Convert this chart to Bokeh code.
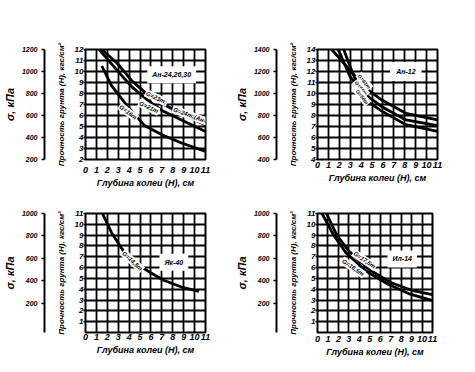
from bokeh.plotting import figure
from bokeh.models import LinearAxis, Range1d, FixedTicker, Label
from bokeh.layouts import column, row
from bokeh.embed import file_html
from bokeh.resources import INLINE

# ---------------- data ----------------
depth_ticks = list(range(0, 12))
x_title = "Глубина колеи (H), см"
strength_title = "Прочность грунта (H), кгс/см²"
sigma_title = "σ, кПа"

# Panel A: Ан-24, 26, 30
a_name = "Ан-24,26,30"
a_strength_ticks = list(range(2, 13))
a_sigma_ticks = [200, 400, 600, 800, 1000, 1200]
a1_x = [1.5, 2.9, 4.3, 5.7, 7.1, 8.8, 11.0]
a1_y = [12.0, 10.75, 9.1, 7.9, 7.04, 6.15, 5.17]
a1_label = "G=23т;"
a2_x = [1.25, 2.9, 4.3, 5.7, 7.1, 8.8, 11.0]
a2_y = [12.0, 10.1, 8.55, 7.4, 6.4, 5.6, 4.55]
a2_label = "G=21т"
a3_x = [1.5, 2.4, 3.8, 5.4, 7.1, 8.8, 11.0]
a3_y = [10.5, 8.7, 6.9, 5.1, 4.2, 3.5, 2.74]
a3_label = "G=16т"
a_extra_label = "G=24т;(Ан-26)"

# Panel B: Ан-12
b_name = "Ан-12"
b_strength_ticks = list(range(4, 15))
b_sigma_ticks = [400, 600, 800, 1000, 1200, 1400]
b1_x = [1.3, 3.0, 4.4, 5.9, 8.1, 11.0]
b1_y = [14.0, 12.1, 10.5, 9.4, 8.2, 7.6]
b2_x = [1.9, 3.0, 4.4, 5.9, 8.1, 11.0]
b2_y = [14.0, 11.5, 9.9, 8.8, 7.6, 7.07]
b3_x = [2.4, 3.2, 4.4, 5.9, 8.1, 11.0]
b3_y = [14.0, 11.9, 9.4, 8.4, 7.16, 6.56]
b_labels = ["G=61т", "G=55т", "G=50т"]

# Panel C: Як-40
c_name = "Як-40"
c_strength_ticks = list(range(1, 12))
c_sigma_ticks = [200, 400, 600, 800, 1000]
c1_x = [1.55, 2.4, 3.5, 5.2, 7.1, 8.8, 10.4]
c1_y = [11.0, 9.2, 7.5, 6.0, 4.85, 4.2, 3.8]
c1_label = "G=14,5т"

# Panel D: Ил-14
d_name = "Ил-14"
d_strength_ticks = list(range(1, 12))
d_sigma_ticks = [200, 400, 600, 800, 1000]
d1_x = [0.86, 1.86, 3.0, 5.0, 7.0, 9.0, 11.0]
d1_y = [11.0, 8.97, 7.52, 5.78, 4.62, 3.9, 3.5]
d1_label = "G=17,5т"
d2_x = [0.43, 1.57, 2.71, 4.71, 6.71, 8.71, 11.0]
d2_y = [11.0, 8.97, 7.38, 5.64, 4.48, 3.6, 2.95]
d2_label = "G=16,5т"

FONT = "Liberation Sans"


def style_text(ax, label_size, title_size):
    ax.axis_label_text_font = FONT
    ax.axis_label_text_font_style = "bold italic"
    ax.axis_label_text_font_size = title_size
    ax.axis_label_text_color = "black"
    ax.major_label_text_font = FONT
    ax.major_label_text_font_style = "bold italic"
    ax.major_label_text_font_size = label_size
    ax.major_label_text_color = "black"


def make_panel(width, height, borders, y_rng, sigma_rng, strength_ticks,
               sigma_ticks, x_standoff):
    left, right, top, bottom = borders
    p = figure(width=width, height=height, x_range=Range1d(0, 11),
               y_range=Range1d(*y_rng), output_backend="svg",
               toolbar_location=None, tools="",
               min_border_left=left, min_border_right=right,
               min_border_top=top, min_border_bottom=bottom)
    p.background_fill_color = "white"
    p.border_fill_color = "white"
    p.outline_line_color = "black"
    p.outline_line_width = 2
    p.outline_line_alpha = 1
    # grid
    p.xgrid.ticker = FixedTicker(ticks=depth_ticks)
    p.ygrid.ticker = FixedTicker(ticks=list(range(int(y_rng[0]), int(y_rng[1]) + 1)))
    for g in (p.xgrid, p.ygrid):
        g.grid_line_color = "black"
        g.grid_line_width = 1.8
        g.grid_line_alpha = 1
    # x axis
    xa = p.xaxis[0]
    xa.ticker = FixedTicker(ticks=depth_ticks)
    xa.axis_line_color = None
    xa.major_tick_out = 0
    xa.major_tick_in = 0
    xa.minor_tick_out = 0
    xa.major_label_standoff = x_standoff
    xa.axis_label = x_title
    xa.axis_label_standoff = 2
    style_text(xa, "9px", "9px")
    # strength axis (next to the frame)
    ya = p.yaxis[0]
    ya.ticker = FixedTicker(ticks=strength_ticks)
    ya.axis_line_color = None
    ya.major_tick_out = 2
    ya.major_tick_in = 0
    ya.major_tick_line_width = 1.5
    ya.minor_tick_out = 0
    ya.major_label_standoff = 0
    ya.axis_label = strength_title
    ya.axis_label_standoff = 6
    ya.major_label_orientation = "horizontal"
    style_text(ya, "8px", "8px")
    p.extra_y_ranges = {"sigma": Range1d(*sigma_rng)}
    # empty gap between the two vertical scales
    gap = LinearAxis(y_range_name="sigma", ticker=FixedTicker(ticks=[]))
    gap.axis_line_color = None
    gap.major_tick_out = 0
    gap.major_tick_in = 0
    gap.minor_tick_out = 0
    gap.minor_tick_in = 0
    gap.major_label_standoff = 0
    gap.axis_label = "x"
    gap.axis_label_standoff = 0
    gap.axis_label_text_font_size = "6px"
    gap.axis_label_text_alpha = 0
    p.add_layout(gap, "left")
    # sigma axis
    sa = LinearAxis(y_range_name="sigma")
    sa.ticker = FixedTicker(ticks=sigma_ticks)
    sa.axis_line_color = "black"
    sa.axis_line_width = 2
    sa.major_tick_out = 3
    sa.major_tick_in = 0
    sa.major_tick_line_width = 1.5
    sa.minor_tick_out = 0
    sa.major_label_standoff = 4
    sa.axis_label = sigma_title
    sa.axis_label_standoff = 3
    style_text(sa, "7px", "11px")
    p.add_layout(sa, "left")
    return p


def curve(p, xs, ys):
    p.line(xs, ys, line_color="black", line_width=2.8)


def tag(p, x, y, text, angle=0.0, size="7px", pad=1):
    p.add_layout(Label(x=x, y=y, text=text, angle=angle, text_align="center",
                       text_baseline="middle", text_font=FONT,
                       text_font_style="bold italic", text_font_size=size,
                       text_color="black", background_fill_color="white",
                       padding=pad))


# Panel A
pa = make_panel(232, 190, (74, 27, 49, 29), (2, 12), (200, 1200),
                a_strength_ticks, a_sigma_ticks, 7)
curve(pa, a1_x, a1_y)
curve(pa, a2_x, a2_y)
curve(pa, a3_x, a3_y)
tag(pa, 7.9, 9.7, a_name, size="7px", pad=5)
tag(pa, 6.5, 7.6, a1_label, angle=-0.45, size="6px")
tag(pa, 5.8, 6.75, a2_label, angle=-0.45, size="6px")
tag(pa, 3.9, 6.3, a3_label, angle=-0.65, size="6px")
tag(pa, 9.9, 5.9, a_extra_label, angle=-0.35, size="6px")

# Panel B
pb = make_panel(227, 190, (77, 22, 49, 29), (4, 14), (400, 1400),
                b_strength_ticks, b_sigma_ticks, 2)
curve(pb, b1_x, b1_y)
curve(pb, b2_x, b2_y)
curve(pb, b3_x, b3_y)
tag(pb, 8.1, 12.0, b_name, size="7px", pad=6)
tag(pb, 4.3, 11.1, b_labels[0], angle=-0.9, size="5px")
tag(pb, 4.0, 10.5, b_labels[1], angle=-0.9, size="5px")
tag(pb, 4.1, 9.7, b_labels[2], angle=-0.9, size="5px")

# Panel C
pc = make_panel(232, 176, (74, 27, 17, 34), (0, 11), (-60, 1000),
                c_strength_ticks, c_sigma_ticks, 1)
curve(pc, c1_x, c1_y)
tag(pc, 8.1, 6.5, c_name, size="7px", pad=5)
tag(pc, 4.3, 6.6, c1_label, angle=-0.75, size="6px")

# Panel D
pd_ = make_panel(227, 176, (70, 27, 23, 27), (0, 11), (-60, 1000),
                 d_strength_ticks, d_sigma_ticks, 3)
curve(pd_, d1_x, d1_y)
curve(pd_, d2_x, d2_y)
tag(pd_, 8.1, 6.8, d_name, size="7px", pad=5)
tag(pd_, 4.5, 6.7, d1_label, angle=-0.6, size="6px")
tag(pd_, 3.4, 6.0, d2_label, angle=-0.6, size="6px")

layout = column(row(pa, pb), row(pc, pd_))
open("out.html", "w").write(file_html(layout, INLINE))
